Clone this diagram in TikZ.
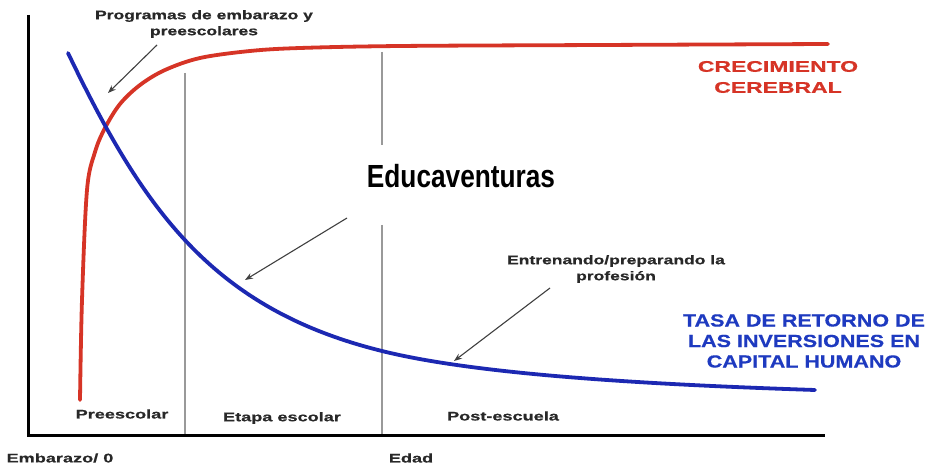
\documentclass[tikz,border=0pt]{standalone}
\usepackage{fontspec}
\setmainfont{Liberation Sans}
\newfontfamily\heavy{Liberation Sans}[BoldFeatures={FakeBold=0.5}]
\usetikzlibrary{arrows.meta}
\definecolor{redc}{RGB}{214,52,38}
\definecolor{bluec}{RGB}{28,40,178}
\definecolor{labc}{RGB}{40,40,40}
\definecolor{tasac}{RGB}{30,58,192}
\newcommand{\stx}[2][1.4]{\scalebox{#1}[1]{#2}}
\begin{document}
\begin{tikzpicture}[x=1pt,y=-1pt,
  axisline/.style={line width=3pt, black, line join=miter},
  divider/.style={line width=1.3pt, black!40},
  redcurve/.style={line width=3.8pt, redc, line cap=round},
  bluecurve/.style={line width=3.8pt, bluec, line cap=round},
  pointer/.style={line width=1.1pt, black!75, -{Stealth[length=8pt,width=6pt]}},
  small/.style={font=\fontsize{12.5}{16}\selectfont\heavy\bfseries, text=labc, align=center, inner sep=0pt},
  big/.style={font=\fontsize{15.5}{21}\selectfont\heavy\bfseries, align=center, inner sep=0pt}]
\useasboundingbox[fill=white] (0,0) rectangle (929,465);

% dividers
\draw[divider] (185,73) -- (185,435);
\draw[divider] (382,52) -- (382,145);
\draw[divider] (382,225) -- (382,435);

% axes
\draw[axisline] (28,15) -- (28,435) -- (825,435);

% curves
\draw[redcurve] plot[smooth, tension=0.55] coordinates {(80,400) (82,300) (87,190) (95,152) (105,128) (120,104) (140,85) (165,70) (200,58) (250,51) (300,48) (400,46) (600,45) (828,44)};
\draw[bluecurve] (68,53) .. controls (143,209) and (212,309) .. (382,351)
                         .. controls (482,376) and (665,385) .. (815,390);

% labels
\node[small] (prog) at (204,24) {\stx{Programas de embarazo y}\\\stx{preescolares}};
\node[small] (entr) at (616,269) {\stx{Entrenando/preparando la}\\\stx{profesión}};
\node[font=\fontsize{32}{36}\selectfont\bfseries, inner sep=0pt] (edu) at (461,176) {\scalebox{0.82}[1]{Educaventuras}};
\node[big, text=redc] (crec) at (778,77) {\stx[1.48]{CRECIMIENTO}\\\stx[1.48]{CEREBRAL}};
\node[font=\fontsize{17.5}{20.5}\selectfont\heavy\bfseries, align=center, inner sep=0pt, text=tasac] (tasa) at (804,341) {\stx[1.23]{TASA DE RETORNO DE}\\\stx[1.23]{LAS INVERSIONES EN}\\\stx[1.23]{CAPITAL HUMANO}};

\node[small] (pre) at (122,414) {\stx[1.45]{Preescolar}};
\node[small] (eta) at (282,418) {\stx[1.45]{Etapa escolar}};
\node[small] (post) at (503,416) {\stx[1.45]{Post-escuela}};
\node[small] (emb) at (60,458) {\stx[1.45]{Embarazo/ 0}};
\node[small] (edad) at (411,458) {\stx[1.45]{Edad}};

% pointers
\coordinate (p1s) at (157,45);
\coordinate (p1e) at (108,93);
\coordinate (p2s) at (347,218);
\coordinate (p2e) at (245,280);
\coordinate (p3s) at (550,288);
\coordinate (p3e) at (454,361);
\draw[pointer] (p1s) -- (p1e);
\draw[pointer] (p2s) -- (p2e);
\draw[pointer] (p3s) -- (p3e);
\end{tikzpicture}
\end{document}
